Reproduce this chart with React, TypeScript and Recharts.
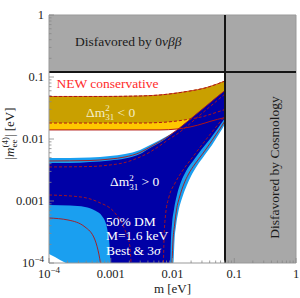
import React from 'react';
import { ComposedChart, XAxis, YAxis, Area, Line, ReferenceArea, ReferenceLine } from 'recharts';

const FONT = '"Liberation Serif", "Times New Roman", serif';

// ---- axis ticks ----
const majorTicks = [0.0001, 0.001, 0.01, 0.1, 1];
const tickLabels = ['10^-4', '0.001', '0.01', '0.1', '1'];
const minorTicks = [0.0001, 0.001, 0.01, 0.1].flatMap((d) =>
  [2, 3, 4, 5, 6, 7, 8, 9].map((k) => +(k * d).toPrecision(3))
);
const allTicks = [...majorTicks, ...minorTicks].sort((a, b) => a - b);

// ---- excluded regions ----
const cosmoBound = 0.0708; // m [eV]
const bbBound = 0.12; // |m_ee| [eV]

// ---- inverted hierarchy band (Δm²31 < 0) ----
const bandM = [1.0e-4, 6.7e-4, 2.98e-3, 6.28e-3, 1.18e-2, 1.92e-2, 3.36e-2, 4.05e-2, 7.08e-2];
const bandTop = [0.0485, 0.0485, 0.0494, 0.0513, 0.0552, 0.0595, 0.0665, 0.0703, 0.0862];
const bandBestLow = [0.0181, 0.0181, 0.0181, 0.01846, 0.0195, 0.021, 0.0235, 0.0249, 0.0299];
const band3sLow = [0.014, 0.014, 0.014, 0.014, 0.0145, 0.0156, 0.0181, 0.0192, 0.0222];

// ---- normal hierarchy (Δm²31 > 0), 3σ region ----
const nh3M = [1.0e-4, 2.19e-4, 4.61e-4, 9.73e-4, 1.7e-3, 2.98e-3, 4.33e-3, 6.28e-3, 9.12e-3, 1.04e-2, 1.08e-2, 1.14e-2, 1.25e-2, 1.43e-2, 1.69e-2, 2.0e-2, 2.49e-2, 3.24e-2, 4.37e-2, 5.66e-2, 7.08e-2];
const nh3Hi = [0.00494, 0.00494, 0.00503, 0.00532, 0.00573, 0.00665, 0.008, 0.00964, 0.01183, 0.01274, 0.01306, 0.01356, 0.01462, 0.01627, 0.01866, 0.02148, 0.02578, 0.03198, 0.04087, 0.0507, 0.06081];
const nh3Lo = [1e-4, 1e-4, 1e-4, 1e-4, 1e-4, 1e-4, 1e-4, 1e-4, 1e-4, 1e-4, 2.35e-4, 3.95e-4, 6.9e-4, 1.12e-3, 1.75e-3, 2.53e-3, 3.67e-3, 5.32e-3, 8.0e-3, 0.012, 0.0175];

// ---- normal hierarchy, best-fit region ----
const nhBM = [1.0e-4, 2.19e-4, 4.61e-4, 9.73e-4, 1.7e-3, 2.98e-3, 4.33e-3, 6.28e-3, 9.12e-3, 9.46e-3, 9.82e-3, 1.06e-2, 1.18e-2, 1.37e-2, 1.66e-2, 2.15e-2, 2.9e-2, 4.05e-2, 5.46e-2, 7.08e-2];
const nhBHi = [0.0041, 0.0041, 0.00425, 0.0045, 0.00485, 0.00573, 0.00716, 0.00879, 0.01139, 0.01173, 0.01213, 0.01283, 0.01398, 0.01579, 0.0184, 0.02282, 0.02917, 0.03848, 0.0492, 0.06081];
const nhBLo = [1e-4, 1e-4, 1e-4, 1e-4, 1e-4, 1e-4, 1e-4, 1e-4, 1e-4, 2.53e-4, 4.26e-4, 7.43e-4, 1.25e-3, 2.02e-3, 3.05e-3, 4.42e-3, 6.65e-3, 0.01, 0.015, 0.0218];

// ---- cancellation blob (3σ only) ----
const blobM = [1.0e-4, 2.19e-4, 3.83e-4, 5.56e-4, 7.21e-4, 8.38e-4, 9.02e-4, 9.55e-4, 9.91e-4];
const blobHi = [8.61e-4, 8.45e-4, 8.0e-4, 7.03e-4, 5.73e-4, 4.26e-4, 3.05e-4, 1.95e-4, 1.0e-4];
const cornerM = [1.0e-4, 1.25e-4, 1.51e-4, 1.88e-4];
const cornerHi = [1.4e-4, 1.25e-4, 1.12e-4, 1.0e-4];

// ---- contour lines ----
const topSolidM = [1e-4, 4.61e-4, 9.73e-4, 1.7e-3, 2.98e-3, 4.33e-3, 6.28e-3, 9.12e-3, 1.18e-2, 2.79e-2, 7.08e-2];
const topSolidY = [0.00442, 0.0045, 0.00475, 0.00513, 0.00606, 0.00743, 0.00912, 0.0116, 0.014, 0.0283, 0.0608];
const topDashY = [0.00354, 0.0036, 0.00381, 0.00418, 0.00513, 0.00617, 0.00785, 0.01019, 0.012, 0.0244, 0.0532];
const rightSolidM = [9.82e-3, 1.02e-2, 1.08e-2, 1.16e-2, 1.3e-2, 1.53e-2, 1.82e-2, 2.31e-2, 3.06e-2, 4.2e-2, 5.56e-2, 7.08e-2];
const rightSolidY = [1e-4, 2.35e-4, 4.1e-4, 7.16e-4, 1.16e-3, 1.88e-3, 2.72e-3, 3.95e-3, 5.73e-3, 8.95e-3, 0.0135, 0.0195];
const rightDashM = [7.14e-3, 7.28e-3, 7.71e-3, 8.77e-3, 1.1e-2, 1.48e-2, 2.07e-2, 2.9e-2, 4.37e-2, 7.08e-2];
const rightDashY = [1e-4, 2.35e-4, 5.94e-4, 1.16e-3, 1.95e-3, 3.16e-3, 4.94e-3, 7.71e-3, 0.013, 0.0235];
const lowDashM = [1e-4, 3.3e-4, 6.23e-4, 1.17e-3, 1.7e-3, 2.05e-3, 2.13e-3];
const lowDashY = [1.25e-3, 1.16e-3, 9.64e-4, 6.4e-4, 3.4e-4, 1.81e-4, 1e-4];
const blobLineM = [1e-4, 2.03e-4, 3.83e-4, 5.56e-4, 6.46e-4, 6.82e-4];
const blobLineY = [5.32e-4, 4.94e-4, 3.81e-4, 2.35e-4, 1.35e-4, 1e-4];

const toRange = (m: number[], lo: number[] | number, hi: number[]) =>
  m.map((v, i) => ({ m: v, r: [Array.isArray(lo) ? lo[i] : lo, hi[i]] }));
const toLine = (m: number[], y: number[]) => m.map((v, i) => ({ m: v, y: y[i] }));

const RED = '#b01515';

const TickText = ({ x, y, anchor, label }: any) => {
  if (label.startsWith('10^')) {
    return (
      <text x={x} y={y} textAnchor={anchor} fontFamily={FONT} fontSize={12.5} fill="#222">
        10<tspan dy={-5} fontSize={9}>{'\u2212' + label.slice(4)}</tspan>
      </text>
    );
  }
  return (
    <text x={x} y={y} textAnchor={anchor} fontFamily={FONT} fontSize={12.5} fill="#222">
      {label}
    </text>
  );
};

const XTick = (props: any) => {
  const { x, y, payload } = props;
  const mi = majorTicks.indexOf(payload.value);
  return (
    <g>
      <line x1={x} x2={x} y1={y} y2={y - (mi >= 0 ? 5 : 2.5)} stroke="#888" strokeWidth={0.8} />
      {mi >= 0 && <TickText x={x} y={y + 15} anchor="middle" label={tickLabels[mi]} />}
    </g>
  );
};

const YTick = (props: any) => {
  const { x, y, payload } = props;
  const mi = majorTicks.indexOf(payload.value);
  return (
    <g>
      <line x1={x} x2={x + (mi >= 0 ? 5 : 2.5)} y1={y} y2={y} stroke="#888" strokeWidth={0.8} />
      {mi >= 0 && <TickText x={x - 5} y={y + 4} anchor="end" label={tickLabels[mi]} />}
    </g>
  );
};

const lineProps = { dataKey: 'y', dot: false, activeDot: false, isAnimationActive: false, type: 'monotone' as const };
const areaProps = { dataKey: 'r', stroke: 'none', fillOpacity: 1, dot: false, activeDot: false, isAnimationActive: false, type: 'monotone' as const };

export default function App() {
  return (
    <div style={{ position: 'absolute', left: 0, top: 0, width: 300, height: 298, background: '#fff' }}>
      <ComposedChart width={300} height={298} margin={{ top: 15, right: 4, bottom: 5, left: 9 }}>
        <XAxis
          dataKey="m"
          type="number"
          scale="log"
          domain={[1e-4, 1]}
          allowDataOverflow
          ticks={allTicks}
          interval={0}
          tick={(p: any) => <XTick {...p} />}
          tickLine={false}
          tickSize={0}
          tickMargin={0}
          height={30}
          axisLine={{ stroke: '#999' }}
        />
        <YAxis
          type="number"
          scale="log"
          domain={[1e-4, 1]}
          allowDataOverflow
          ticks={allTicks}
          interval={0}
          tick={(p: any) => <YTick {...p} />}
          tickLine={false}
          tickSize={0}
          tickMargin={0}
          width={40}
          axisLine={{ stroke: '#999' }}
        />
        <ReferenceArea x1={1e-4} x2={1} y1={bbBound} y2={1} fill="#a8a8a8" fillOpacity={1} stroke="none" />
        <ReferenceArea x1={cosmoBound} x2={1} y1={1e-4} y2={bbBound} fill="#a8a8a8" fillOpacity={1} stroke="none" />

        <Area {...areaProps} data={toRange(bandM, band3sLow, bandTop)} fill="#ffc800" />
        <Area {...areaProps} data={toRange(bandM, bandBestLow, bandTop)} fill="#c9a000" />
        <Area {...areaProps} data={toRange(nh3M, nh3Lo, nh3Hi)} fill="#1a9ff0" />
        <Area {...areaProps} data={toRange(nhBM, nhBLo, nhBHi)} fill="#0000a6" />
        <Area {...areaProps} data={toRange(blobM, 1e-4, blobHi)} fill="#1a9ff0" />
        <Area {...areaProps} data={toRange(cornerM, 1e-4, cornerHi)} fill="#ffffff" />

        <Line {...lineProps} data={toLine(bandM, bandTop)} stroke="#c8601a" strokeWidth={1} />
        <Line {...lineProps} data={toLine(bandM, bandTop)} stroke={RED} strokeWidth={1} strokeDasharray="3 2" />
        <Line {...lineProps} data={toLine(bandM, bandBestLow)} stroke={RED} strokeWidth={1} strokeDasharray="3 2" />
        <Line {...lineProps} data={toLine(bandM, band3sLow)} stroke={RED} strokeWidth={1} />
        <Line {...lineProps} data={toLine(topSolidM, topSolidY)} stroke={RED} strokeWidth={0.9} />
        <Line {...lineProps} data={toLine(topSolidM, topDashY)} stroke={RED} strokeWidth={0.9} strokeDasharray="3 2" />
        <Line {...lineProps} data={toLine(rightSolidM, rightSolidY)} stroke={RED} strokeWidth={0.9} />
        <Line {...lineProps} data={toLine(rightDashM, rightDashY)} stroke={RED} strokeWidth={0.9} strokeDasharray="3 2" />
        <Line {...lineProps} data={toLine(lowDashM, lowDashY)} stroke={RED} strokeWidth={0.9} strokeDasharray="3 2" />
        <Line {...lineProps} data={toLine(blobLineM, blobLineY)} stroke={RED} strokeWidth={0.9} />

        <ReferenceLine y={1} stroke="#999" />
        <ReferenceLine x={1} stroke="#999" />
        <ReferenceLine y={bbBound} stroke="#151515" strokeWidth={2} />
        <ReferenceLine x={cosmoBound} stroke="#151515" strokeWidth={2} />
      </ComposedChart>

      <svg width={300} height={298} style={{ position: 'absolute', left: 0, top: 0, pointerEvents: 'none' }} fontFamily={FONT}>
        <text x={75} y={45.5} fontSize={13.5} fill="#1a1a1a">
          Disfavored by 0<tspan fontStyle="italic">νββ</tspan>
        </text>
        <text x={56.5} y={87.5} fontSize={13.5} fill="#ff2a2a">NEW conservative</text>
        <text x={86} y={116.5} fontSize={13.5} fill="#f4edc8">
          Δm<tspan fontSize={9} dy={-5.5}>2</tspan>
          <tspan fontSize={9} dx={-4.5} dy={9}>31</tspan>
          <tspan dy={-3.5}>{' < 0'}</tspan>
        </text>
        <text x={110} y={186} fontSize={13.5} fill="#ffffff">
          Δm<tspan fontSize={9} dy={-5.5}>2</tspan>
          <tspan fontSize={9} dx={-4.5} dy={9}>31</tspan>
          <tspan dy={-3.5}>{' > 0'}</tspan>
        </text>
        <text x={106} y={225.5} fontSize={13.5} fill="#ffffff">50% DM</text>
        <text x={106} y={240} fontSize={13.5} fill="#ffffff">M=1.6 keV</text>
        <text x={106} y={254.5} fontSize={13.5} fill="#ffffff">
          Best &amp; 3<tspan fontStyle="italic">σ</tspan>
        </text>
        <text transform="translate(278.5,167.5) rotate(-90)" textAnchor="middle" fontSize={13.5} fill="#1a1a1a">
          Disfavored by Cosmology
        </text>
        <text transform="translate(13.5,133.5) rotate(-90)" textAnchor="middle" fontSize={13} fill="#222">
          |<tspan fontStyle="italic">m</tspan>
          <tspan fontSize={9} dy={3}>ee</tspan>
          <tspan fontSize={9} dx={-8} dy={-9}>(4)</tspan>
          <tspan dy={6}>| [eV]</tspan>
        </text>
        <text x={172.5} y={293} textAnchor="middle" fontSize={13} fill="#222">m [eV]</text>
      </svg>
    </div>
  );
}
